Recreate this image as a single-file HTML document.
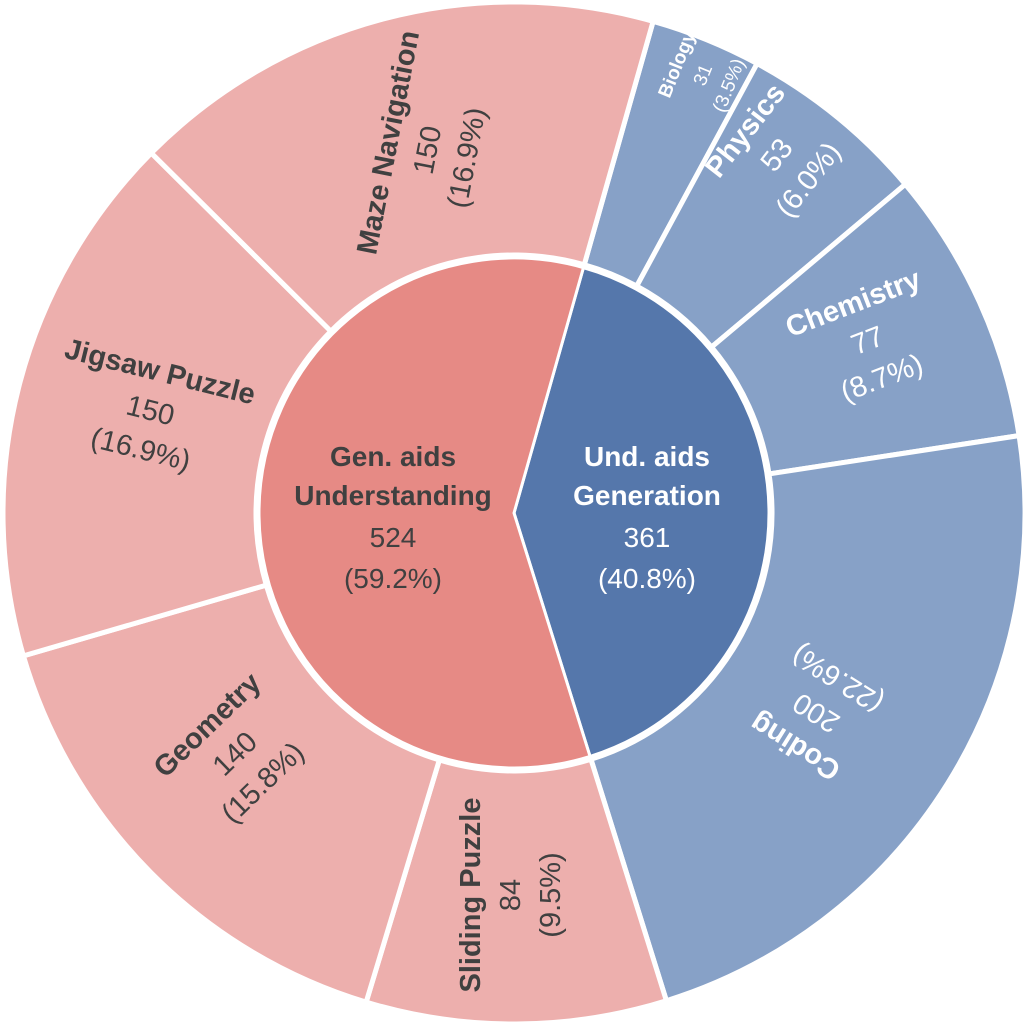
<!DOCTYPE html>
<html><head><meta charset="utf-8"><style>
html,body{margin:0;padding:0;background:#fff;}
svg{display:block;}
text{font-family:"Liberation Sans",sans-serif;text-anchor:middle;}
.d{fill:#404040;}
.w{fill:#fff;}
.b{font-weight:bold;}
</style></head><body>
<svg id="s" width="1028" height="1026" viewBox="0 0 1028 1026">
<g id="wedges"></g>
<g font-size="28">
<text class="d b" x="393" y="466">Gen. aids</text>
<text class="d b" x="393" y="505">Understanding</text>
<text class="d" x="393" y="547">524</text>
<text class="d" x="393" y="588">(59.2%)</text>
<text class="w b" x="647" y="466">Und. aids</text>
<text class="w b" x="647" y="505">Generation</text>
<text class="w" x="647" y="547">361</text>
<text class="w" x="647" y="588">(40.8%)</text>
</g>
<g font-size="29">
<g transform="translate(427,150) rotate(-79)">
<text class="d b" x="0" y="-30">Maze Navigation</text><text class="d" x="0" y="10">150</text><text class="d" x="0" y="50">(16.9%)</text></g>
<g transform="translate(150,412) rotate(14)">
<text class="d b" x="0" y="-32">Jigsaw Puzzle</text><text class="d" x="0" y="8">150</text><text class="d" x="0" y="48">(16.9%)</text></g>
<g transform="translate(236,755) rotate(-44)">
<text class="d b" x="0" y="-32">Geometry</text><text class="d" x="0" y="8">140</text><text class="d" x="0" y="48">(15.8%)</text></g>
<g transform="translate(512,895) rotate(-90)">
<text class="d b" x="0" y="-32">Sliding Puzzle</text><text class="d" x="0" y="8">84</text><text class="d" x="0" y="48">(9.5%)</text></g>
<g transform="translate(815,715) rotate(212)">
<text class="w b" x="0" y="-28">Coding</text><text class="w" x="0" y="12">200</text><text class="w" x="0" y="52">(22.6%)</text></g>
<g transform="translate(868,342) rotate(-21)">
<text class="w b" x="0" y="-32">Chemistry</text><text class="w" x="0" y="8">77</text><text class="w" x="0" y="48">(8.7%)</text></g>
<g transform="translate(778,156) rotate(-52)">
<text class="w b" x="0" y="-32">Physics</text><text class="w" x="0" y="8">53</text><text class="w" x="0" y="48">(6.0%)</text></g>
</g>
<g font-size="19" transform="translate(703,75) rotate(-68)">
<text class="w b" x="0" y="-22">Biology</text><text class="w" x="0" y="6">31</text><text class="w" x="0" y="34">(3.5%)</text></g>
</svg>
<script>
(function(){
var cx=514,cy=513,R0=255,R1=258,R2=511,start=15.8,T=885;
function pt(r,a){a=a*Math.PI/180;return [cx+r*Math.sin(a),cy-r*Math.cos(a)];}
function ring(r1,r2,a1,a2){var l=(a2-a1)>180?1:0;var p1=pt(r2,a1),p2=pt(r2,a2),p3=pt(r1,a2),p4=pt(r1,a1);
return "M"+p1+" A"+r2+","+r2+" 0 "+l+" 1 "+p2+" L"+p3+" A"+r1+","+r1+" 0 "+l+" 0 "+p4+" Z";}
function pie(r,a1,a2){var l=(a2-a1)>180?1:0;var p1=pt(r,a1),p2=pt(r,a2);
return "M"+cx+","+cy+" L"+p1+" A"+r+","+r+" 0 "+l+" 1 "+p2+" Z";}
var g=document.getElementById("wedges"),h="";
var outer=[[31,"#87a1c7"],[53,"#87a1c7"],[77,"#87a1c7"],[200,"#87a1c7"],[84,"#edafad"],[140,"#edafad"],[150,"#edafad"],[150,"#edafad"]];
var a=start;
outer.forEach(function(o){var b=a+o[0]/T*360;h+='<path d="'+ring(R1,R2,a,b)+'" fill="'+o[1]+'" stroke="#fff" stroke-width="5"/>';a=b;});
var bEnd=start+361/T*360;
h+='<path d="'+pie(R0,start,bEnd)+'" fill="#5577ab" stroke="#fff" stroke-width="3"/>';
h+='<path d="'+pie(R0,bEnd,start+360)+'" fill="#e68a85" stroke="#fff" stroke-width="3"/>';
g.innerHTML=h;
})();
</script>
</body></html>
